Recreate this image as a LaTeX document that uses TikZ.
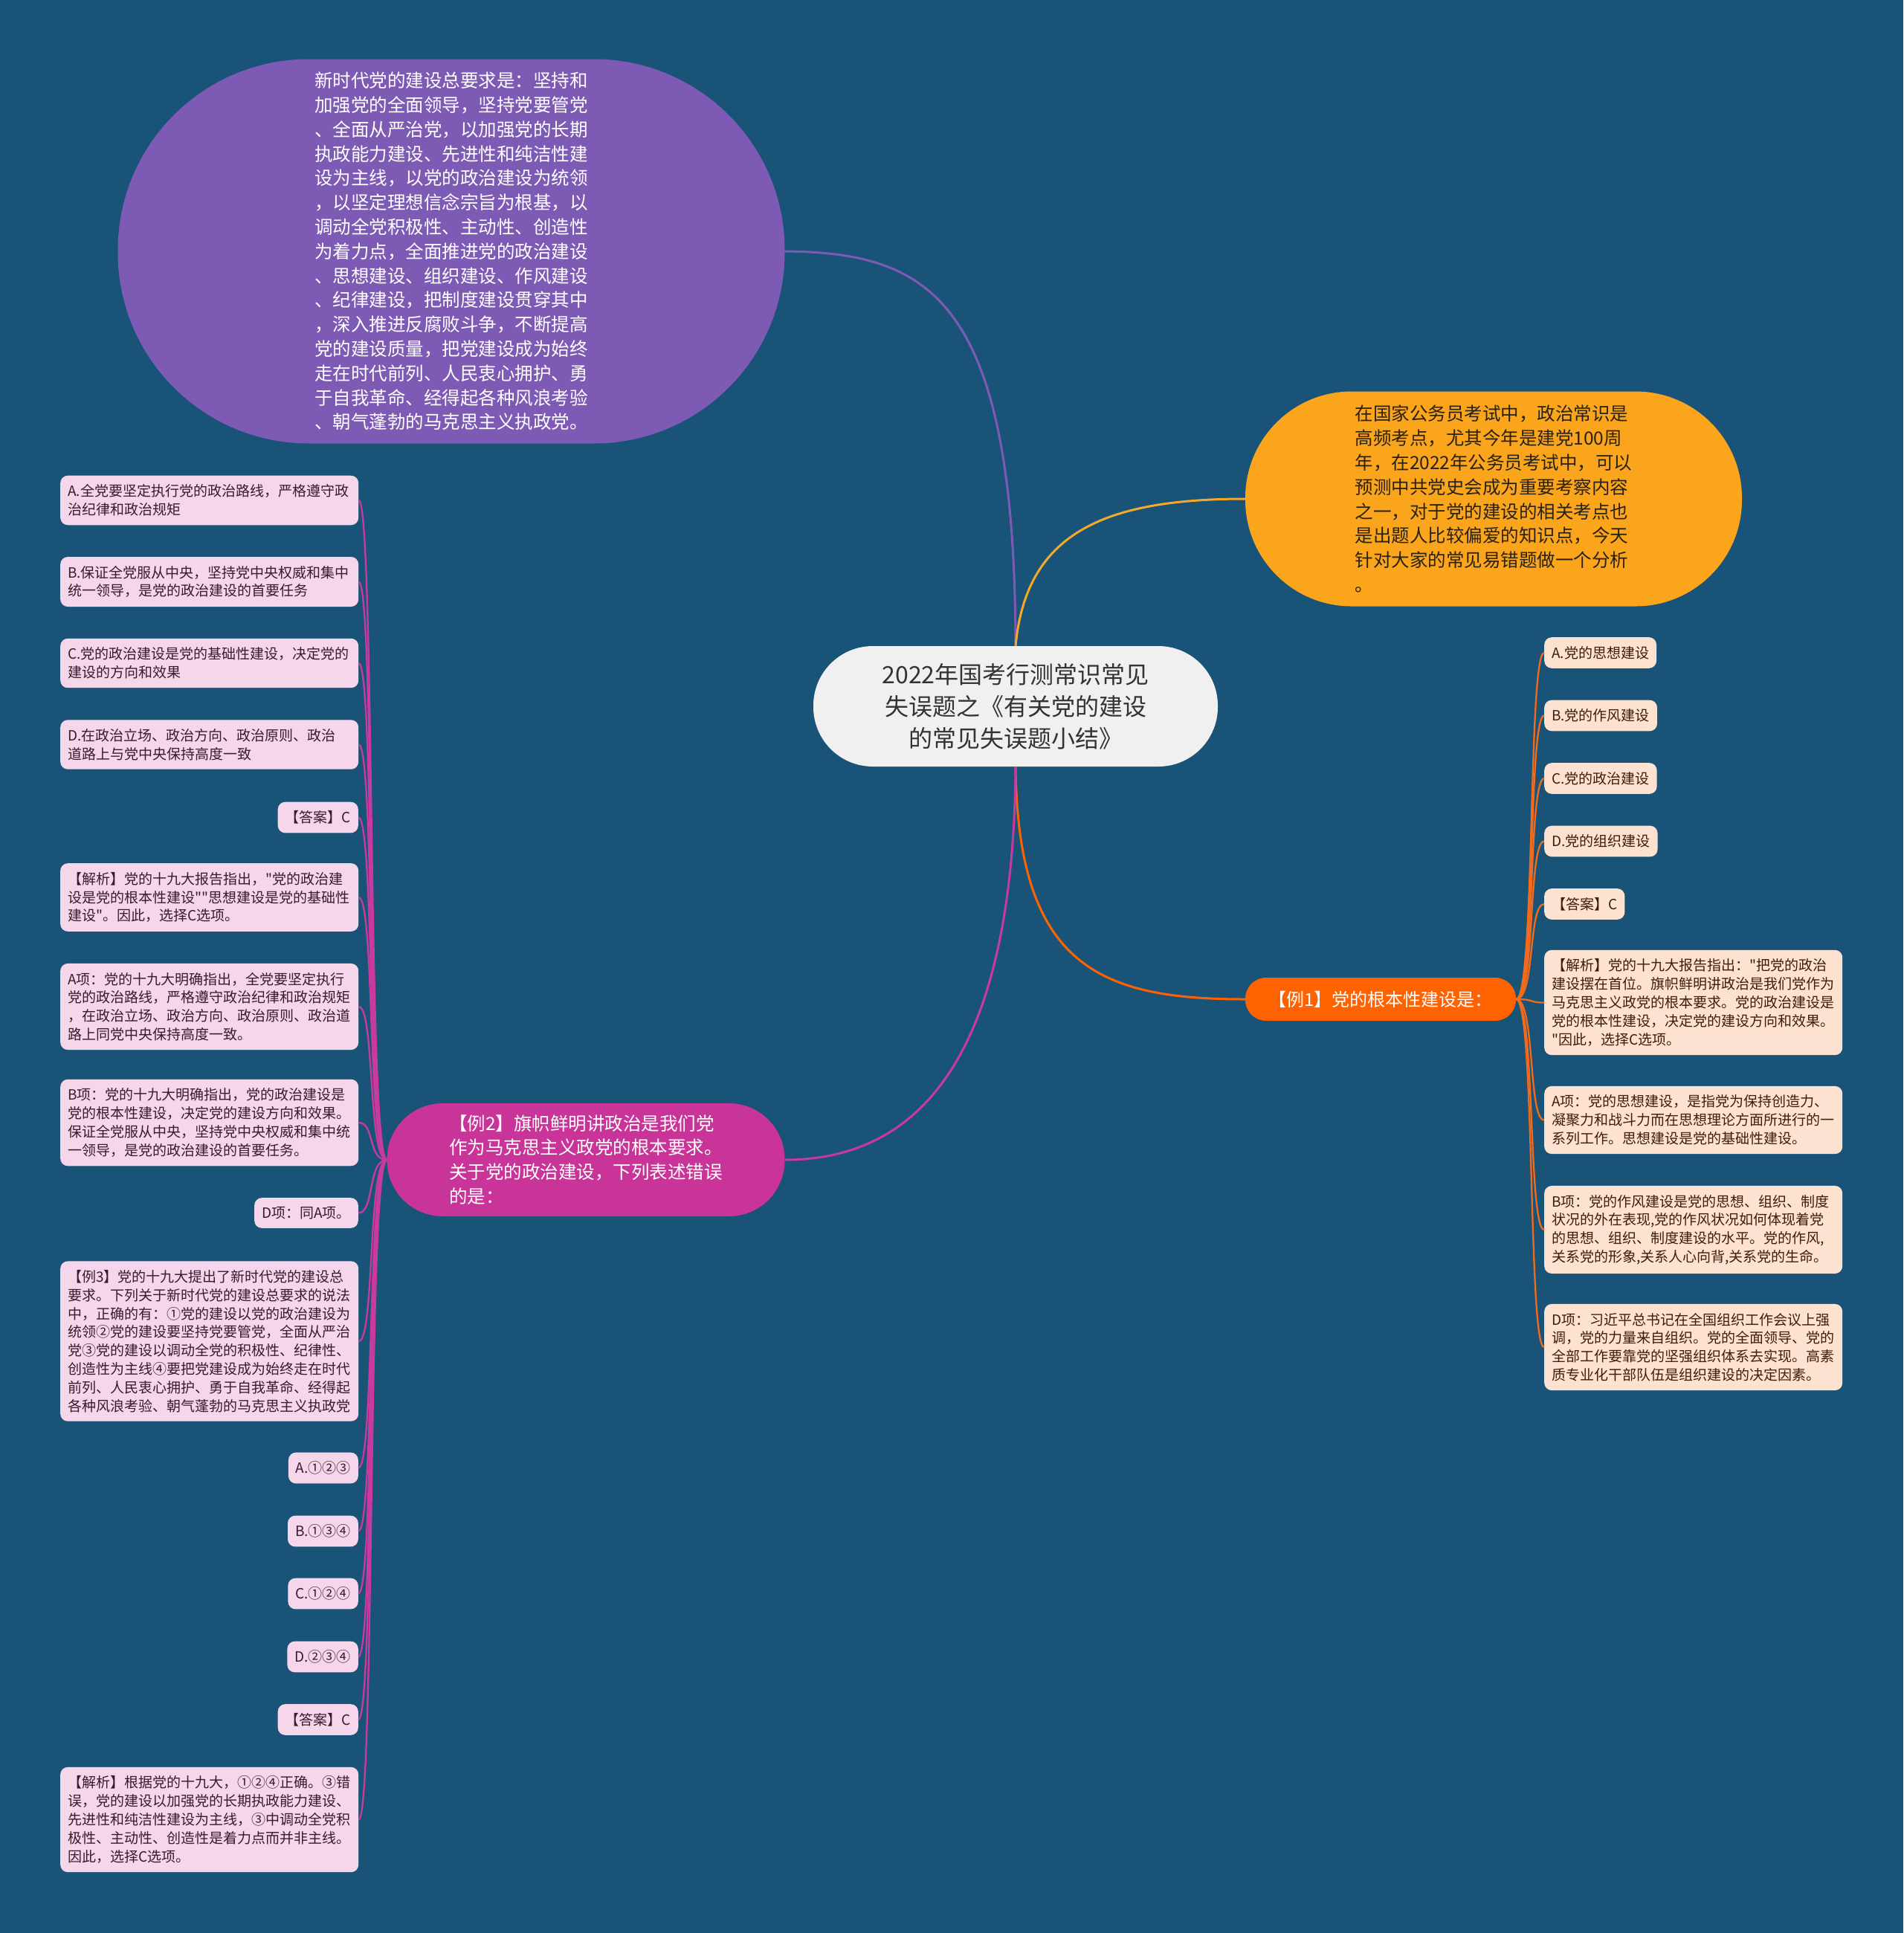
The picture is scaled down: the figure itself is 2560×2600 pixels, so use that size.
\documentclass[tikz,border=0pt]{standalone}
\usepackage{fontspec}
\setmainfont{Noto Sans CJK SC}
\newfontfamily\cjkfont{Noto Sans CJK SC}
\usepackage{tikz}
\usepackage{xcolor}

\definecolor{bgblue}{RGB}{26,83,120}
\definecolor{rootfill}{RGB}{240,240,240}
\definecolor{roottext}{RGB}{51,51,51}
\definecolor{goalfill}{RGB}{125,91,180}
\definecolor{introfill}{RGB}{250,165,28}
\definecolor{introline}{RGB}{242,168,42}
\definecolor{introtext}{RGB}{40,34,20}
\definecolor{exonefill}{RGB}{255,98,0}
\definecolor{exoneline}{RGB}{242,106,27}
\definecolor{extwofill}{RGB}{200,52,152}
\definecolor{extwoline}{RGB}{200,58,158}
\definecolor{peachfill}{RGB}{253,226,210}
\definecolor{peachtext}{RGB}{64,28,10}
\definecolor{pinkfill}{RGB}{245,214,234}
\definecolor{pinktext}{RGB}{58,26,50}

\begin{document}
\begin{tikzpicture}[
        x=1pt, y=-1pt,
        font=\cjkfont\fontsize{19}{24.8}\selectfont,
        topic/.style={rectangle, inner sep=0pt, align=left},
        peach/.style={rectangle, rounded corners=10pt, fill=peachfill, text=peachtext,
            inner xsep=10pt, inner ysep=12pt, align=left},
        pinkish/.style={rectangle, rounded corners=10pt, fill=pinkfill, text=pinktext,
            inner xsep=10pt, inner ysep=12pt, align=left},
        wide/.style={text width=381pt},
        link/.style={line width=3pt},
        twig/.style={line width=2.3pt}
    ]

    % 背景
    \fill[bgblue] (0,0) rectangle (2560,2600);
    \useasboundingbox (0,0) rectangle (2560,2600);

    % 中心主题
    \node[topic, fill=rootfill, text=roottext, align=center, minimum width=544pt,
        minimum height=162pt, rounded corners=80pt, font=\cjkfont\fontsize{32}{43}\selectfont]
        (root) at (1366,950) {2022年国考行测常识常见\\失误题之《有关党的建设\\的常见失误题小结》};

    % 总要求
    \node[topic, fill=goalfill, text=white, minimum width=897pt, minimum height=517pt,
        rounded corners=257pt, font=\cjkfont\fontsize{24.5}{32.8}\selectfont] (goal) at (607,338)
        {新时代党的建设总要求是：坚持和\\加强党的全面领导，坚持党要管党\\、全面从严治党，以加强党的长期\\执政能力建设、先进性和纯洁性建\\设为主线，以党的政治建设为统领\\，以坚定理想信念宗旨为根基，以\\调动全党积极性、主动性、创造性\\为着力点，全面推进党的政治建设\\、思想建设、组织建设、作风建设\\、纪律建设，把制度建设贯穿其中\\，深入推进反腐败斗争，不断提高\\党的建设质量，把党建设成为始终\\走在时代前列、人民衷心拥护、勇\\于自我革命、经得起各种风浪考验\\、朝气蓬勃的马克思主义执政党。};

    % 导语
    \node[topic, fill=introfill, text=introtext, minimum width=668pt, minimum height=289pt,
        rounded corners=143pt, font=\cjkfont\fontsize{24.5}{32.8}\selectfont] (intro) at (2009,671)
        {在国家公务员考试中，政治常识是\\高频考点，尤其今年是建党100周\\年，在2022年公务员考试中，可以\\预测中共党史会成为重要考察内容\\之一，对于党的建设的相关考点也\\是出题人比较偏爱的知识点，今天\\针对大家的常见易错题做一个分析\\。};

    % 例1
    \node[topic, fill=exonefill, text=white, align=center, minimum width=364pt,
        minimum height=58pt, rounded corners=28pt, font=\cjkfont\fontsize{24}{30}\selectfont]
        (ex1) at (1857,1344) {【例1】党的根本性建设是：};

    % 例2
    \node[topic, fill=extwofill, text=white, minimum width=535pt, minimum height=152pt,
        rounded corners=75pt, font=\cjkfont\fontsize{24.5}{32.8}\selectfont] (ex2) at (788,1560)
        {【例2】旗帜鲜明讲政治是我们党\\作为马克思主义政党的根本要求。\\关于党的政治建设，下列表述错误\\的是：};

    % 例1 的分支
    \node[peach, anchor=west] (ra) at (2077,878) {A.党的思想建设};
    \node[peach, anchor=west] (rb) at (2077,962.5) {B.党的作风建设};
    \node[peach, anchor=west] (rc) at (2077,1047) {C.党的政治建设};
    \node[peach, anchor=west] (rd) at (2077,1131.5) {D.党的组织建设};
    \node[peach, anchor=west] (rans) at (2077,1216) {【答案】C};
    \node[peach, wide, anchor=west] (rexp) at (2077,1348.5)
        {【解析】党的十九大报告指出："把党的政治\\建设摆在首位。旗帜鲜明讲政治是我们党作为\\马克思主义政党的根本要求。党的政治建设是\\党的根本性建设，决定党的建设方向和效果。\\"因此，选择C选项。};
    \node[peach, wide, anchor=west] (rA) at (2077,1506.5)
        {A项：党的思想建设，是指党为保持创造力、\\凝聚力和战斗力而在思想理论方面所进行的一\\系列工作。思想建设是党的基础性建设。};
    \node[peach, wide, anchor=west] (rB) at (2077,1654)
        {B项：党的作风建设是党的思想、组织、制度\\状况的外在表现,党的作风状况如何体现着党\\的思想、组织、制度建设的水平。党的作风,\\关系党的形象,关系人心向背,关系党的生命。};
    \node[peach, wide, anchor=west] (rD) at (2077,1812)
        {D项：习近平总书记在全国组织工作会议上强\\调，党的力量来自组织。党的全面领导、党的\\全部工作要靠党的坚强组织体系去实现。高素\\质专业化干部队伍是组织建设的决定因素。};

    % 例2 的分支
    \node[pinkish, wide, anchor=west] (la) at (81,673)
        {A.全党要坚定执行党的政治路线，严格遵守政\\治纪律和政治规矩};
    \node[pinkish, wide, anchor=west] (lb) at (81,782.5)
        {B.保证全党服从中央，坚持党中央权威和集中\\统一领导，是党的政治建设的首要任务};
    \node[pinkish, wide, anchor=west] (lc) at (81,892)
        {C.党的政治建设是党的基础性建设，决定党的\\建设的方向和效果};
    \node[pinkish, wide, anchor=west] (ld) at (81,1001.5)
        {D.在政治立场、政治方向、政治原则、政治\\道路上与党中央保持高度一致};
    \node[pinkish, anchor=east] (lans) at (482,1099.5) {【答案】C};
    \node[pinkish, wide, anchor=west] (lexp) at (81,1207)
        {【解析】党的十九大报告指出，"党的政治建\\设是党的根本性建设""思想建设是党的基础性\\建设"。因此，选择C选项。};
    \node[pinkish, wide, anchor=west] (lA) at (81,1354)
        {A项：党的十九大明确指出，全党要坚定执行\\党的政治路线，严格遵守政治纪律和政治规矩\\，在政治立场、政治方向、政治原则、政治道\\路上同党中央保持高度一致。};
    \node[pinkish, wide, anchor=west] (lB) at (81,1510)
        {B项：党的十九大明确指出，党的政治建设是\\党的根本性建设，决定党的建设方向和效果。\\保证全党服从中央，坚持党中央权威和集中统\\一领导，是党的政治建设的首要任务。};
    \node[pinkish, anchor=east] (lD) at (482,1631.5) {D项：同A项。};

    % 例3
    \node[pinkish, wide, anchor=west] (ex3) at (81,1804)
        {【例3】党的十九大提出了新时代党的建设总\\要求。下列关于新时代党的建设总要求的说法\\中，正确的有：①党的建设以党的政治建设为\\统领②党的建设要坚持党要管党，全面从严治\\党③党的建设以调动全党的积极性、纪律性、\\创造性为主线④要把党建设成为始终走在时代\\前列、人民衷心拥护、勇于自我革命、经得起\\各种风浪考验、朝气蓬勃的马克思主义执政党};
    \node[pinkish, anchor=east] (opa) at (482,1974.5) {A.①②③};
    \node[pinkish, anchor=east] (opb) at (482,2059.5) {B.①③④};
    \node[pinkish, anchor=east] (opc) at (482,2143.5) {C.①②④};
    \node[pinkish, anchor=east] (opd) at (482,2228.5) {D.②③④};
    \node[pinkish, anchor=east] (ans3) at (482,2313) {【答案】C};
    \node[pinkish, wide, anchor=west] (exp3) at (81,2447.5)
        {【解析】根据党的十九大，①②④正确。③错\\误，党的建设以加强党的长期执政能力建设、\\先进性和纯洁性建设为主线，③中调动全党积\\极性、主动性、创造性是着力点而并非主线。\\因此，选择C选项。};

    % 主干连线
    \draw[link, goalfill] (goal.east) .. controls (1250,340) and (1365,400) .. (root.north);
    \draw[link, introline] (root.north) .. controls (1380,720) and (1480,671) .. (intro.west);
    \draw[link, exonefill] (root.south) .. controls (1369,1300) and (1480,1344) .. (ex1.west);
    \draw[link, extwoline] (root.south) .. controls (1363,1400) and (1250,1560) .. (ex2.east);

    % 右侧连线
    \draw[twig, exoneline] (ex1.east) .. controls +(26,0) and +(-22,0) .. (ra.west);
    \draw[twig, exoneline] (ex1.east) .. controls +(26,0) and +(-22,0) .. (rb.west);
    \draw[twig, exoneline] (ex1.east) .. controls +(26,0) and +(-22,0) .. (rc.west);
    \draw[twig, exoneline] (ex1.east) .. controls +(26,0) and +(-22,0) .. (rd.west);
    \draw[twig, exoneline] (ex1.east) .. controls +(26,0) and +(-22,0) .. (rans.west);
    \draw[twig, exoneline] (ex1.east) .. controls +(26,0) and +(-22,0) .. (rexp.west);
    \draw[twig, exoneline] (ex1.east) .. controls +(26,0) and +(-22,0) .. (rA.west);
    \draw[twig, exoneline] (ex1.east) .. controls +(26,0) and +(-22,0) .. (rB.west);
    \draw[twig, exoneline] (ex1.east) .. controls +(26,0) and +(-22,0) .. (rD.west);

    % 左侧连线
    \draw[twig, extwoline] (ex2.west) .. controls +(-26,0) and +(22,0) .. (la.east);
    \draw[twig, extwoline] (ex2.west) .. controls +(-26,0) and +(22,0) .. (lb.east);
    \draw[twig, extwoline] (ex2.west) .. controls +(-26,0) and +(22,0) .. (lc.east);
    \draw[twig, extwoline] (ex2.west) .. controls +(-26,0) and +(22,0) .. (ld.east);
    \draw[twig, extwoline] (ex2.west) .. controls +(-26,0) and +(22,0) .. (lans.east);
    \draw[twig, extwoline] (ex2.west) .. controls +(-26,0) and +(22,0) .. (lexp.east);
    \draw[twig, extwoline] (ex2.west) .. controls +(-26,0) and +(22,0) .. (lA.east);
    \draw[twig, extwoline] (ex2.west) .. controls +(-26,0) and +(22,0) .. (lB.east);
    \draw[twig, extwoline] (ex2.west) .. controls +(-26,0) and +(22,0) .. (lD.east);
    \draw[twig, extwoline] (ex2.west) .. controls +(-26,0) and +(22,0) .. (ex3.east);
    \draw[twig, extwoline] (ex2.west) .. controls +(-26,0) and +(22,0) .. (opa.east);
    \draw[twig, extwoline] (ex2.west) .. controls +(-26,0) and +(22,0) .. (opb.east);
    \draw[twig, extwoline] (ex2.west) .. controls +(-26,0) and +(22,0) .. (opc.east);
    \draw[twig, extwoline] (ex2.west) .. controls +(-26,0) and +(22,0) .. (opd.east);
    \draw[twig, extwoline] (ex2.west) .. controls +(-26,0) and +(22,0) .. (ans3.east);
    \draw[twig, extwoline] (ex2.west) .. controls +(-26,0) and +(22,0) .. (exp3.east);

\end{tikzpicture}
\end{document}
